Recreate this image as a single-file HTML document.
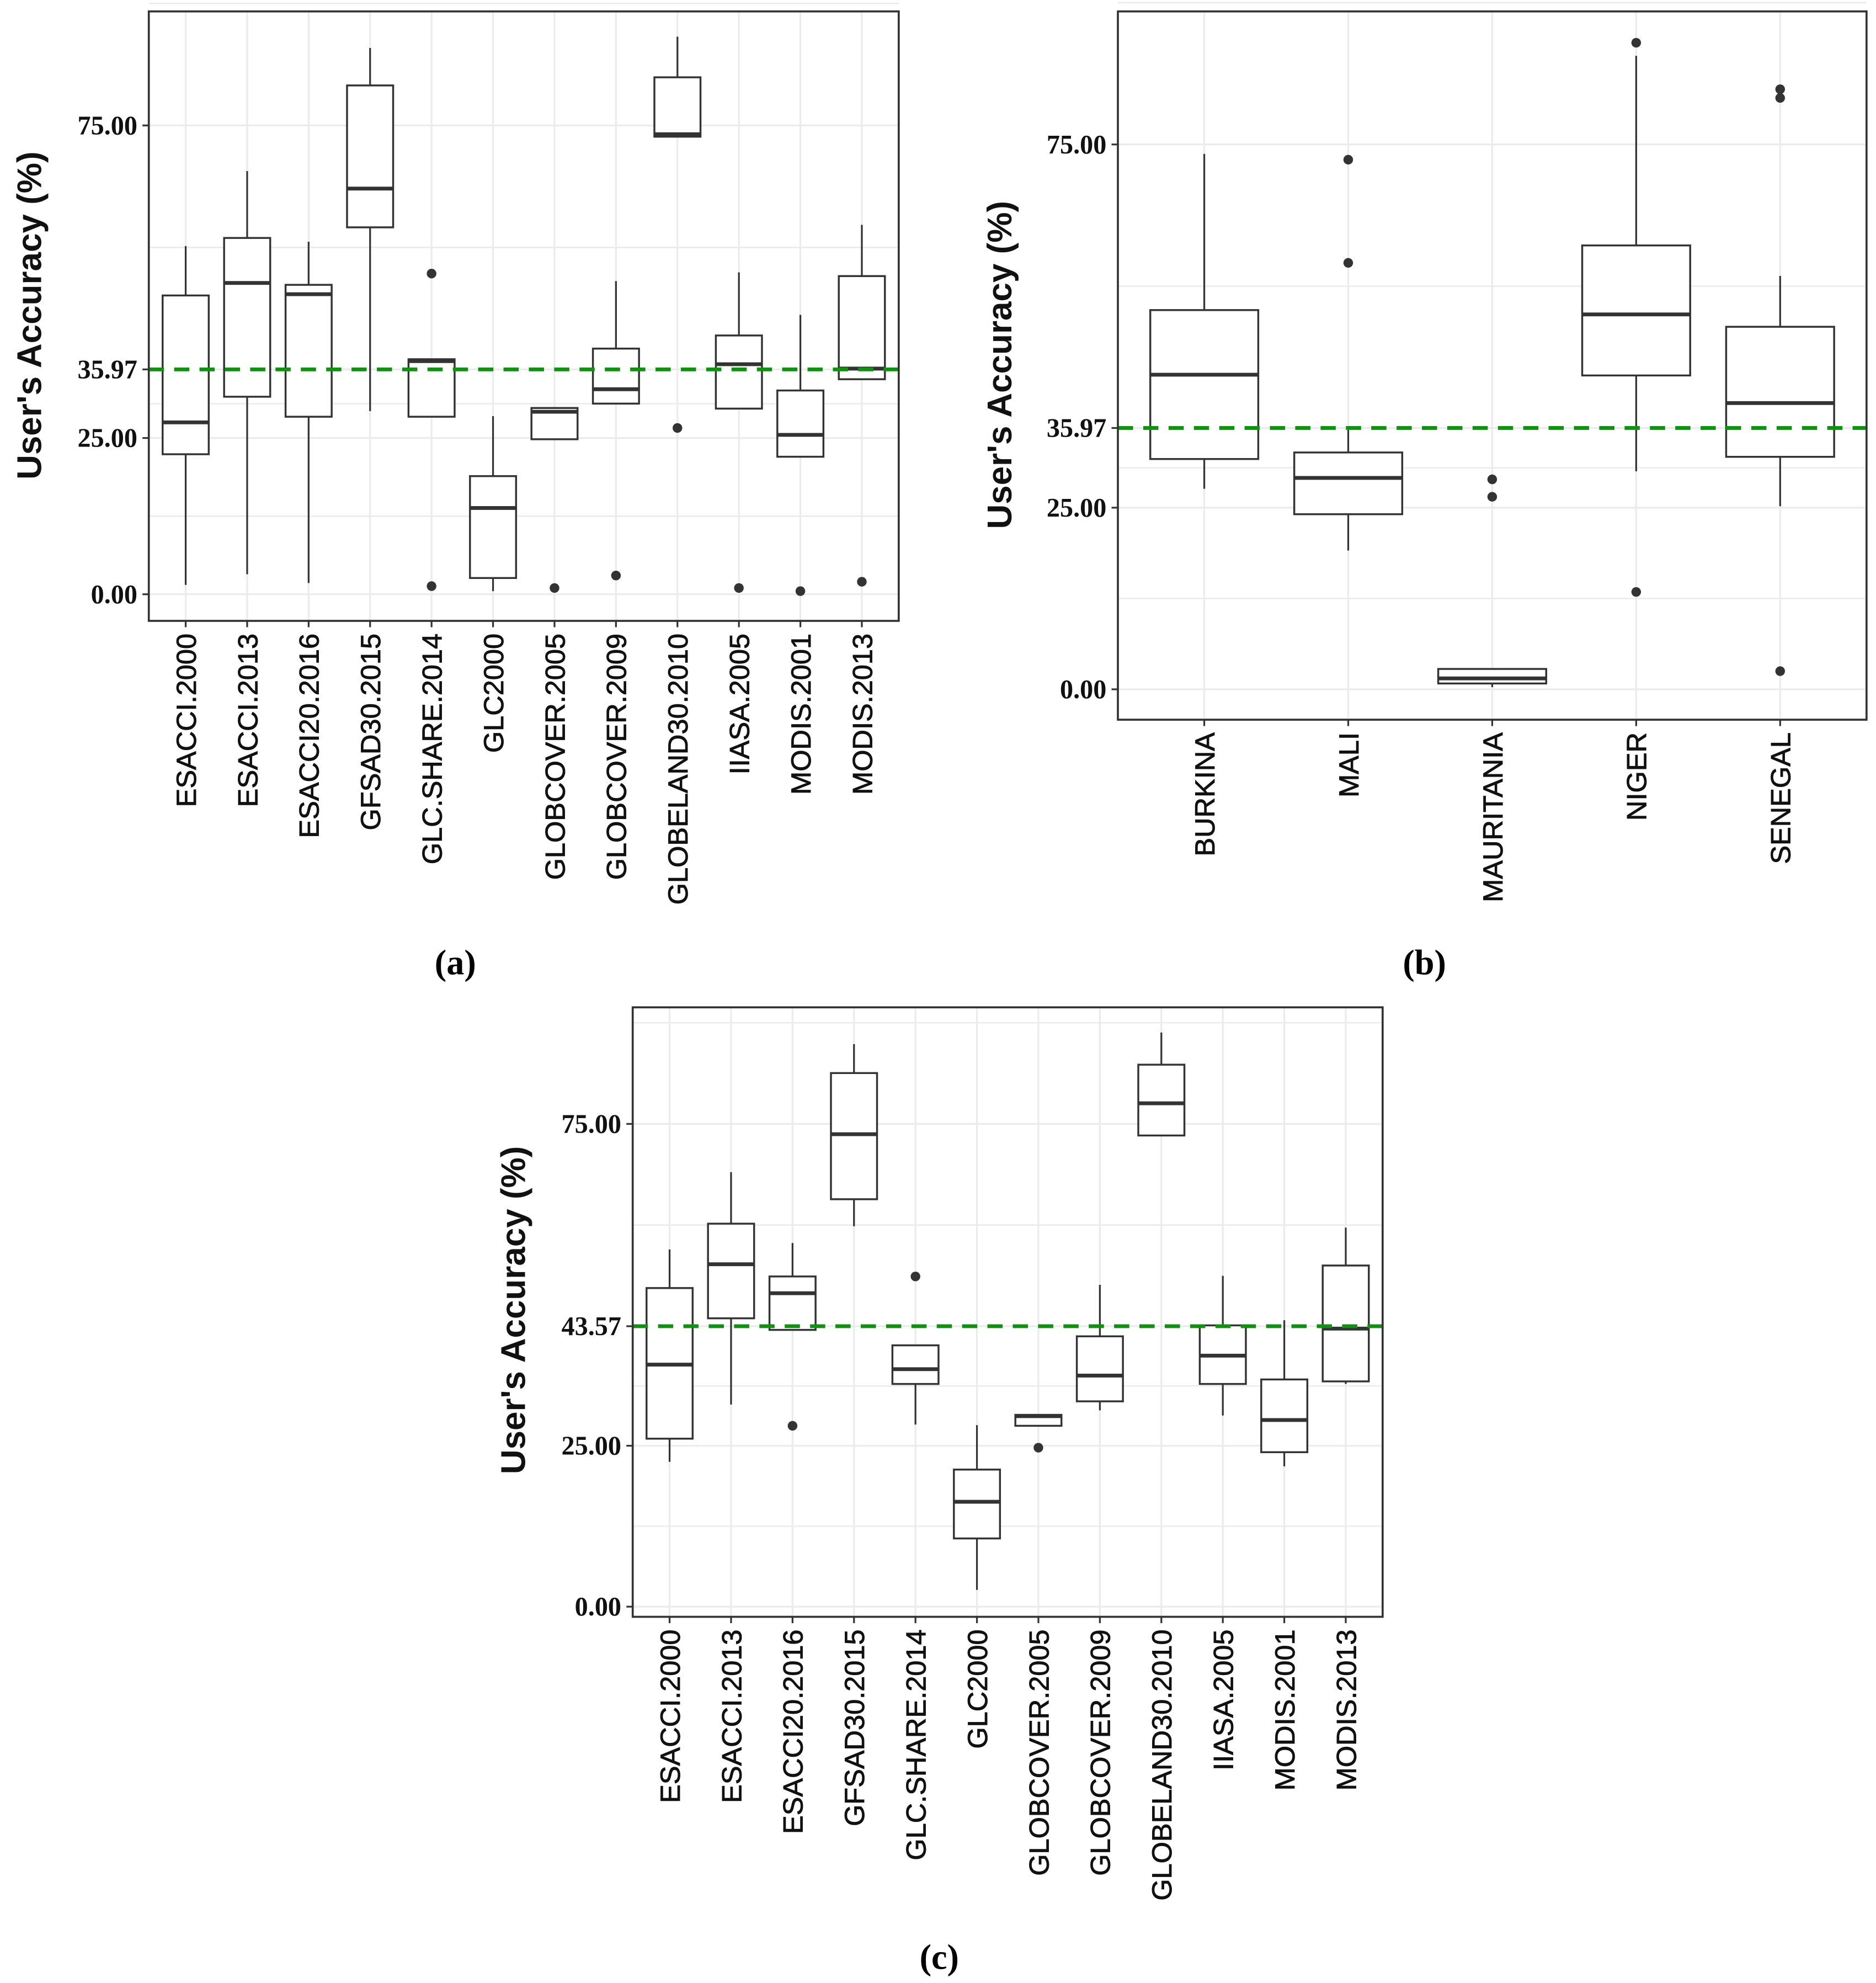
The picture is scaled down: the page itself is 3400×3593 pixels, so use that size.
<!DOCTYPE html>
<html><head><meta charset="utf-8"><style>
html,body{margin:0;padding:0;background:#fff}
svg{display:block}
</style></head><body>
<svg id="fig" width="3400" height="3593" viewBox="0 0 1480 1565" xmlns="http://www.w3.org/2000/svg">
<rect width="1480" height="1565" fill="#fff"/>
<text x="359" y="769" text-anchor="middle" style="font-family:'Liberation Serif',serif;font-weight:bold;font-size:28px">(a)</text>
<text x="1124" y="769" text-anchor="middle" style="font-family:'Liberation Serif',serif;font-weight:bold;font-size:28px">(b)</text>
<text x="741" y="1554" text-anchor="middle" style="font-family:'Liberation Serif',serif;font-weight:bold;font-size:28px">(c)</text>
</svg>
<script>
// Panel (a) data
const catsA = ["ESACCI.2000","ESACCI.2013","ESACCI20.2016","GFSAD30.2015","GLC.SHARE.2014","GLC2000","GLOBCOVER.2005","GLOBCOVER.2009","GLOBELAND30.2010","IIASA.2005","MODIS.2001","MODIS.2013"];
const loA  = [1.5, 3.2, 1.8, 29.3, 28.4, 0.5, 24.8, 30.5, 73.2, 29.7, 22.0, 34.4];
const q1A  = [22.4, 31.6, 28.4, 58.7, 28.4, 2.6, 24.8, 30.5, 73.2, 29.7, 22.0, 34.4];
const medA = [27.5, 49.8, 48.0, 64.9, 37.3, 13.8, 29.2, 32.8, 73.6, 36.8, 25.5, 36.1];
const q3A  = [47.8, 57.0, 49.5, 81.4, 37.6, 18.9, 29.8, 39.3, 82.7, 41.4, 32.6, 50.9];
const hiA  = [55.7, 67.7, 56.4, 87.4, 37.6, 28.5, 29.8, 50.1, 89.2, 51.5, 44.7, 59.1];
const outA = [[],[],[],[],[51.3,1.3],[],[1.0],[3.0],[26.6],[1.0],[0.5],[2.0]];
const ticksA = [0, 25, 35.97, 75];
const tickLabA = ["0.00","25.00","35.97","75.00"];
const refA = 35.97;

// Panel (b) data
const catsB = ["BURKINA","MALI","MAURITANIA","NIGER","SENEGAL"];
const loB  = [27.6, 19.1, 0.3, 30.0, 25.2];
const q1B  = [31.7, 24.1, 0.8, 43.2, 32.0];
const medB = [43.3, 29.1, 1.5, 51.6, 39.4];
const q3B  = [52.2, 32.6, 2.8, 61.1, 49.9];
const hiB  = [73.7, 35.7, 2.8, 87.2, 56.9];
const outB = [[],[72.9,58.7],[28.9,26.5],[89.0,13.4],[82.6,81.4,2.5]];
const ticksB = [0, 25, 35.97, 75];
const tickLabB = ["0.00","25.00","35.97","75.00"];
const refB = 35.97;

// Panel (c) data
const catsC = catsA.slice();
const loC  = [22.5, 31.4, 43.0, 59.1, 28.3, 2.6, 28.1, 30.5, 73.2, 29.7, 21.8, 34.6];
const q1C  = [26.1, 44.8, 43.0, 63.3, 34.6, 10.6, 28.1, 31.9, 73.2, 34.6, 24.0, 35.0];
const medC = [37.6, 53.2, 48.7, 73.4, 36.9, 16.3, 29.6, 35.9, 78.2, 39.0, 29.0, 43.2];
const q3C  = [49.5, 59.5, 51.3, 82.9, 40.6, 21.3, 29.8, 42.0, 84.2, 43.7, 35.3, 53.0];
const hiC  = [55.5, 67.5, 56.5, 87.4, 40.6, 28.2, 29.8, 50.0, 89.2, 51.4, 44.5, 58.9];
const outC = [[],[],[28.1],[],[51.3],[],[24.7],[],[],[],[],[]];
const ticksC = [0, 25, 43.57, 75];
const tickLabC = ["0.00","25.00","43.57","75.00"];
const refC = 43.57;

const NS = "http://www.w3.org/2000/svg";
const svg = document.getElementById('fig');
function mk(tag, attrs, parent){
  const e = document.createElementNS(NS, tag);
  for (const k in attrs) e.setAttribute(k, attrs[k]);
  (parent||svg).appendChild(e); return e;
}

function panel(id, P, cats, lo, q1, med, q3, hi, outs, ticks, tickLab, ref){
  const g = mk('g', {});
  
  
  const y = v => P.y0 + (P.y75 - P.y0) * v / 75;
  const n = cats.length;
  const step = (P.r - P.l) / (n - 1 + 1.2);
  const x = i => P.l + step * (0.6 + i);
  const minors = [];
  for (let i = 0; i < ticks.length - 1; i++) minors.push((ticks[i] + ticks[i+1]) / 2);
  minors.push(ticks[ticks.length-1] + (ticks[ticks.length-1]-ticks[ticks.length-2]) / 2);
  minors.forEach(v => {
    const l = mk('line', {x1:P.l, x2:P.r, y1:y(v), y2:y(v), stroke:'#ebebeb', 'stroke-width':1.1}, g);
    
    
  });
  ticks.forEach(v => {
    const l = mk('line', {x1:P.l, x2:P.r, y1:y(v), y2:y(v), stroke:'#ebebeb', 'stroke-width':1.4}, g);
    
    
  });
  cats.forEach((c, i) => {
    const l = mk('line', {x1:x(i), x2:x(i), y1:P.t, y2:P.b, stroke:'#ebebeb', 'stroke-width':1.4}, g);
    
    
  });
  const bw = step * 0.75;
  cats.forEach((c, i) => {
    const bg = mk('g', {}, g);
    
    
    const cx = x(i);
    mk('line', {x1:cx, x2:cx, y1:y(q3[i]), y2:y(hi[i]), stroke:'#333', 'stroke-width':1.4}, bg);
    mk('line', {x1:cx, x2:cx, y1:y(q1[i]), y2:y(lo[i]), stroke:'#333', 'stroke-width':1.4}, bg);
    mk('rect', {x:cx - bw/2, y:y(q3[i]), width:bw, height:Math.max(0.5, y(q1[i]) - y(q3[i])), fill:'#fff', stroke:'#333', 'stroke-width':1.5}, bg);
    mk('line', {x1:cx - bw/2, x2:cx + bw/2, y1:y(med[i]), y2:y(med[i]), stroke:'#333', 'stroke-width':3}, bg);
    outs[i].forEach(v => {
      const o = mk('circle', {cx:cx, cy:y(v), r:3.8, fill:'#333'}, bg);
      
      
    });
  });
  const rl = mk('line', {x1:P.l, x2:P.r, y1:y(ref), y2:y(ref), stroke:'#138f13', 'stroke-width':3, 'stroke-dasharray':'12 8'}, g);
  
  
  const bd = mk('rect', {x:P.l, y:P.t, width:P.r-P.l, height:P.b-P.t, fill:'none', stroke:'#333', 'stroke-width':1.6}, g);
  
  
  ticks.forEach((v, k) => {
    mk('line', {x1:P.l-5, x2:P.l, y1:y(v), y2:y(v), stroke:'#333', 'stroke-width':1.4}, g);
    const t = mk('text', {x:P.l-9, y:y(v)+7, 'text-anchor':'end', fill:'#111', style:"font-family:'Liberation Serif',serif;font-weight:bold;font-size:21px"}, g);
    
    
    t.textContent = tickLab[k];
  });
  cats.forEach((c, i) => {
    mk('line', {x1:x(i), x2:x(i), y1:P.b, y2:P.b+5, stroke:'#333', 'stroke-width':1.4}, g);
    const tx = x(i) + 8, ty = P.b + 10;
    const t = mk('text', {x:tx, y:ty, 'text-anchor':'end', fill:'#111', transform:'rotate(-90 '+tx+' '+ty+')', style:"font-family:'Liberation Sans',sans-serif;font-size:22px;stroke:#111;stroke-width:0.4"}, g);
    
    
    t.textContent = c;
  });
  const yt = mk('text', {x:P.tx, y:P.ty, 'text-anchor':'middle', fill:'#111', transform:'rotate(-90 '+P.tx+' '+P.ty+')', style:"font-family:'Liberation Sans',sans-serif;font-weight:bold;font-size:27px"}, g);
  
  
  yt.textContent = "User's Accuracy (%)";
}

panel('a', {l:117, r:709, t:9, b:490, y0:469, y75:99, tx:32, ty:249}, catsA, loA, q1A, medA, q3A, hiA, outA, ticksA, tickLabA, refA);
panel('b', {l:882, r:1473, t:9, b:568, y0:544, y75:114, tx:798, ty:288}, catsB, loB, q1B, medB, q3B, hiB, outB, ticksB, tickLabB, refB);
panel('c', {l:499, r:1091, t:795, b:1276, y0:1268, y75:887, tx:414, ty:1034}, catsC, loC, q1C, medC, q3C, hiC, outC, ticksC, tickLabC, refC);
</script>
</body></html>
